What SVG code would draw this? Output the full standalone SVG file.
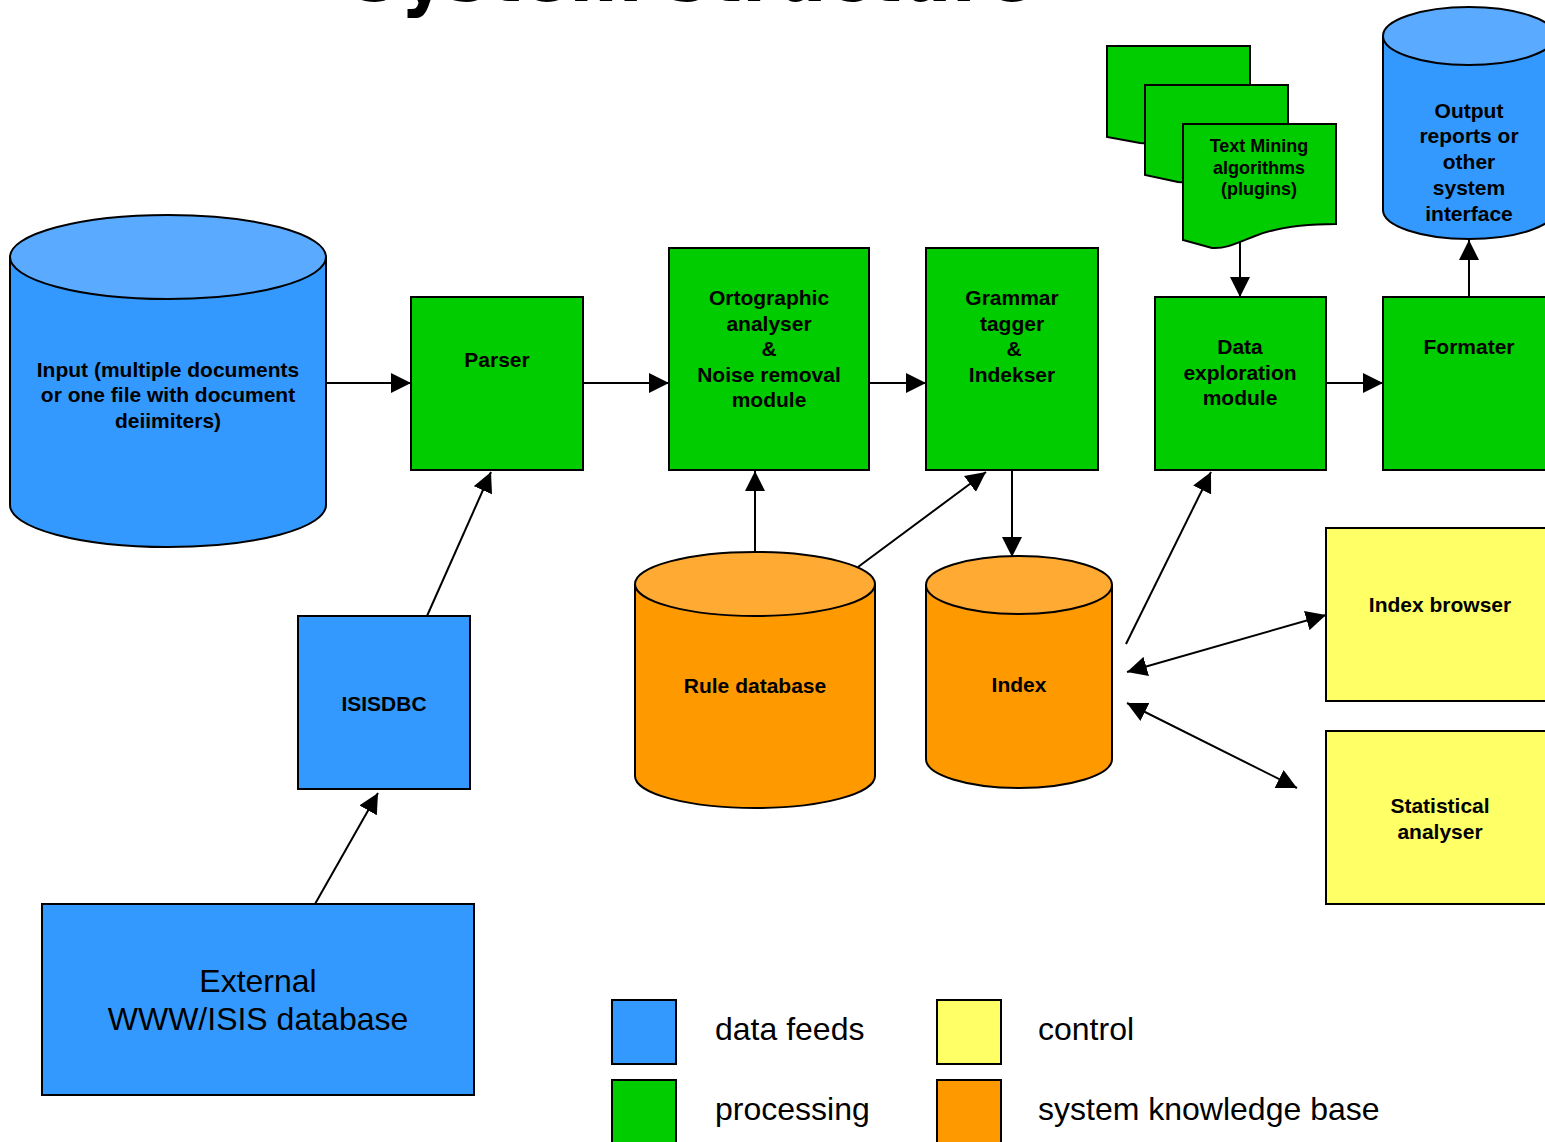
<svg xmlns="http://www.w3.org/2000/svg" width="1545" height="1142" viewBox="0 0 1545 1142">
  <defs>
    <marker id="arr" markerUnits="userSpaceOnUse" markerWidth="20" markerHeight="20" refX="20" refY="10" orient="auto-start-reverse">
      <path d="M0,0 L20,10 L0,20 Z" fill="#000"/>
    </marker>
  </defs>
  <style>
    .blue { fill: #3399ff; stroke: #000; stroke-width: 2; }
    .blueTop { fill: #5aaaff; stroke: #000; stroke-width: 2; }
    .green { fill: #00cc00; stroke: #000; stroke-width: 2; }
    .yellow { fill: #ffff66; stroke: #000; stroke-width: 2; }
    .orange { fill: #ff9900; stroke: #000; stroke-width: 2; }
    .orangeTop { fill: #ffaa33; stroke: #000; stroke-width: 2; }
    .lbl { font-family: "Liberation Sans", Arial, sans-serif; font-weight: bold; font-size: 21px; fill: #000; text-anchor: middle; }
    .small { font-size: 18px; }
    .big { font-family: "Liberation Sans", Arial, sans-serif; font-size: 32px; fill: #000; }
    .mid { text-anchor: middle; }
    .conn line { stroke: #000; stroke-width: 2; fill: none; marker-end: url(#arr); }
    .conn line.both { marker-start: url(#arr); }
  </style>

  <rect width="1545" height="1142" fill="#fff"/>

  <!-- title, mostly above the top edge -->
  <text x="350" y="1" font-family="'DejaVu Sans Condensed', 'DejaVu Sans', sans-serif" font-weight="bold" font-size="78" textLength="684" lengthAdjust="spacingAndGlyphs" fill="#000">System structure</text>

  <!-- connectors -->
  <g id="connectors" class="conn">
    <line x1="326" y1="383" x2="411" y2="383"/>
    <line x1="583" y1="383" x2="669" y2="383"/>
    <line x1="869" y1="383" x2="926" y2="383"/>
    <line x1="1326" y1="383" x2="1383" y2="383"/>
    <line x1="1469" y1="297" x2="1469" y2="240"/>
    <line x1="1240" y1="238" x2="1240" y2="297"/>
    <line x1="427" y1="616" x2="491" y2="472"/>
    <line x1="315" y1="904" x2="378" y2="793"/>
    <line x1="755" y1="557" x2="755" y2="471"/>
    <line x1="858" y1="567" x2="986" y2="472"/>
    <line x1="1012" y1="470" x2="1012" y2="557"/>
    <line x1="1126" y1="644" x2="1211" y2="472"/>
    <line class="both" x1="1127" y1="672" x2="1326" y2="615"/>
    <line class="both" x1="1127" y1="703" x2="1297" y2="788"/>
  </g>

  <!-- input store -->
  <g id="input">
    <path class="blue" d="M10,257 V505 A158,42 0 0 0 326,505 V257"/>
    <ellipse class="blueTop" cx="168" cy="257" rx="158" ry="42"/>
    <text class="lbl" x="168" y="377">Input (multiple documents</text>
    <text class="lbl" x="168" y="402">or one file with document</text>
    <text class="lbl" x="168" y="428">deiimiters)</text>
  </g>

  <g id="parser">
    <rect class="green" x="411" y="297" width="172" height="173"/>
    <text class="lbl" x="497" y="367">Parser</text>
  </g>

  <g id="ortographic">
    <rect class="green" x="669" y="248" width="200" height="222"/>
    <text class="lbl" x="769" y="305">Ortographic</text>
    <text class="lbl" x="769" y="331">analyser</text>
    <text class="lbl" x="769" y="356">&amp;</text>
    <text class="lbl" x="769" y="382">Noise removal</text>
    <text class="lbl" x="769" y="407">module</text>
  </g>

  <g id="grammar">
    <rect class="green" x="926" y="248" width="172" height="222"/>
    <text class="lbl" x="1012" y="305">Grammar</text>
    <text class="lbl" x="1012" y="331">tagger</text>
    <text class="lbl" x="1014" y="356">&amp;</text>
    <text class="lbl" x="1012" y="382">Indekser</text>
  </g>

  <g id="exploration">
    <rect class="green" x="1155" y="297" width="171" height="173"/>
    <text class="lbl" x="1240" y="354">Data</text>
    <text class="lbl" x="1240" y="380">exploration</text>
    <text class="lbl" x="1240" y="405">module</text>
  </g>

  <g id="formater">
    <rect class="green" x="1383" y="297" width="180" height="173"/>
    <text class="lbl" x="1469" y="354">Formater</text>
  </g>

  <!-- output store -->
  <g id="output">
    <path class="blue" d="M1383,36 V210 A86,29 0 0 0 1555,210 V36"/>
    <ellipse class="blueTop" cx="1469" cy="36" rx="86" ry="29"/>
    <text class="lbl" x="1469" y="118">Output</text>
    <text class="lbl" x="1469" y="143">reports or</text>
    <text class="lbl" x="1469" y="169">other</text>
    <text class="lbl" x="1469" y="195">system</text>
    <text class="lbl" x="1469" y="221">interface</text>
  </g>

  <!-- stack of plugin documents -->
  <g id="plugins">
    <path class="green" d="M1107,46 H1250 V126 C1220,126 1195,130 1180,136 C1165,142 1155,144 1140,143 L1107,137 Z"/>
    <path class="green" d="M1145,85 H1288 V165 C1258,165 1233,169 1218,175 C1203,181 1193,183 1178,182 L1145,175 Z"/>
    <path class="green" d="M1183,124 H1336 V224 C1300,224 1275,228 1255,236 C1235,244 1225,249 1212,248 L1183,240 Z"/>
    <text class="lbl small" x="1259" y="152">Text Mining</text>
    <text class="lbl small" x="1259" y="174">algorithms</text>
    <text class="lbl small" x="1259" y="195">(plugins)</text>
  </g>

  <g id="isisdbc">
    <rect class="blue" x="298" y="616" width="172" height="173"/>
    <text class="lbl" x="384" y="711">ISISDBC</text>
  </g>

  <g id="external">
    <rect class="blue" x="42" y="904" width="432" height="191"/>
    <text class="big mid" x="258" y="992">External</text>
    <text class="big mid" x="258" y="1030">WWW/ISIS database</text>
  </g>

  <g id="ruledb">
    <path class="orange" d="M635,584 V776 A120,32 0 0 0 875,776 V584"/>
    <ellipse class="orangeTop" cx="755" cy="584" rx="120" ry="32"/>
    <text class="lbl" x="755" y="693">Rule database</text>
  </g>

  <g id="index">
    <path class="orange" d="M926,585 V759 A93,29 0 0 0 1112,759 V585"/>
    <ellipse class="orangeTop" cx="1019" cy="585" rx="93" ry="29"/>
    <text class="lbl" x="1019" y="692">Index</text>
  </g>

  <g id="browser">
    <rect class="yellow" x="1326" y="528" width="230" height="173"/>
    <text class="lbl" x="1440" y="612">Index browser</text>
  </g>

  <g id="statistical">
    <rect class="yellow" x="1326" y="731" width="230" height="173"/>
    <text class="lbl" x="1440" y="813">Statistical</text>
    <text class="lbl" x="1440" y="839">analyser</text>
  </g>

  <!-- legend -->
  <g id="legend">
    <rect class="blue" x="612" y="1000" width="64" height="64"/>
    <rect class="green" x="612" y="1080" width="64" height="70"/>
    <rect class="yellow" x="937" y="1000" width="64" height="64"/>
    <rect class="orange" x="937" y="1080" width="64" height="70"/>
    <text class="big" x="715" y="1040">data feeds</text>
    <text class="big" x="715" y="1120">processing</text>
    <text class="big" x="1038" y="1040">control</text>
    <text class="big" x="1038" y="1120">system knowledge base</text>
  </g>
</svg>
